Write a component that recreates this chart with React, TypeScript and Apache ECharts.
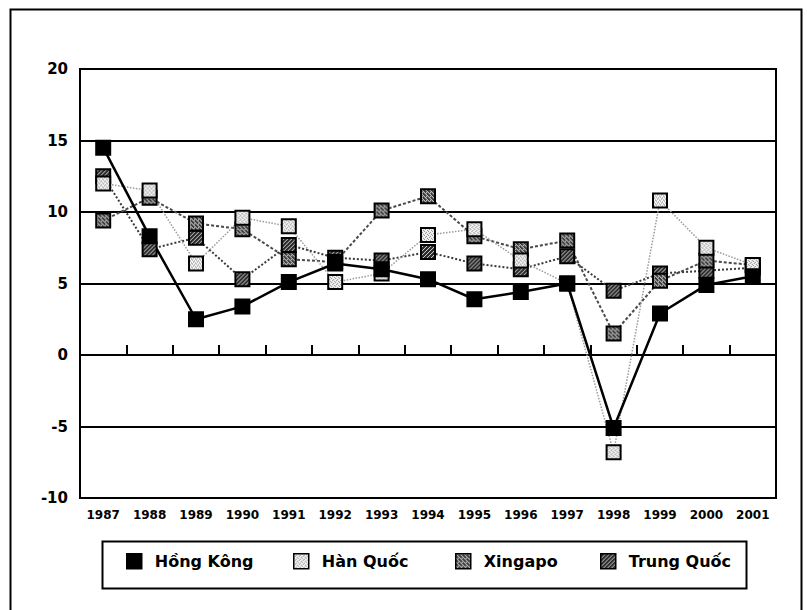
import React, { useEffect, useRef } from "react";
import * as echarts from "echarts";

// Annual growth (%) by economy, 1987–2001
const years = [
  "1987", "1988", "1989", "1990", "1991", "1992", "1993", "1994",
  "1995", "1996", "1997", "1998", "1999", "2000", "2001",
];
const hongKong = [14.5, 8.3, 2.5, 3.4, 5.1, 6.4, 6.0, 5.3, 3.9, 4.4, 5.0, -5.1, 2.9, 4.9, 5.5];
const hanQuoc = [12.0, 11.5, 6.4, 9.6, 9.0, 5.1, 5.7, 8.4, 8.8, 6.6, 5.0, -6.8, 10.8, 7.5, 6.3];
const xingapo = [9.4, 11.0, 9.2, 8.8, 6.7, 6.5, 10.1, 11.1, 8.3, 7.4, 8.0, 1.5, 5.2, 6.6, 6.3];
const trungQuoc = [12.5, 7.4, 8.2, 5.3, 7.7, 6.8, 6.6, 7.2, 6.4, 6.0, 6.9, 4.5, 5.7, 5.9, 6.1];

const yTicks = { min: -10, max: 20, interval: 5 };

const FONT = "'DejaVu Sans', 'Liberation Sans', sans-serif";
const SYMBOL = 14;

// Small repeating fill tiles for the square markers
function tile(bg: string, dot: string, cells: number[][], scale: number) {
  const c = document.createElement("canvas");
  c.width = 4;
  c.height = 4;
  const ctx = c.getContext("2d")!;
  ctx.fillStyle = bg;
  ctx.fillRect(0, 0, 4, 4);
  ctx.fillStyle = dot;
  cells.forEach(([x, y]) => ctx.fillRect(x, y, 1, 1));
  return { image: c, repeat: "repeat", scaleX: scale, scaleY: scale };
}

const lightCells = [[0, 0], [2, 1], [1, 2], [3, 3]];
const hatchCellsA = [[0, 0], [1, 1], [2, 2], [3, 3], [2, 0]];
const hatchCellsB = [[0, 0], [2, 2], [3, 1], [1, 3]];

function lineSeries(name: string, data: number[], fill: any, lineStyle: any) {
  return {
    type: "line",
    name,
    data,
    xAxisIndex: 0,
    yAxisIndex: 0,
    symbol: "rect",
    symbolSize: SYMBOL,
    showAllSymbol: true,
    itemStyle: { color: fill, borderColor: "#000", borderWidth: 2 },
    lineStyle,
    emphasis: { disabled: true },
  };
}

export default function App() {
  const ref = useRef<HTMLDivElement>(null);

  useEffect(() => {
    const chart = echarts.init(ref.current!, null, { renderer: "svg" });

    // marker paths are drawn in unit space and scaled up by half the symbol size
    const s = 2 / SYMBOL;
    const fills = {
      light: tile("#f4f4f4", "#8a8a8a", lightCells, s),
      hatchA: tile("#3c3c3c", "#e8e8e8", hatchCellsA, s),
      hatchB: tile("#2a2a2a", "#d0d0d0", hatchCellsB, s),
    };
    const legendFills = {
      light: tile("#f4f4f4", "#8a8a8a", lightCells, 1),
      hatchA: tile("#3c3c3c", "#e8e8e8", hatchCellsA, 1),
      hatchB: tile("#2a2a2a", "#d0d0d0", hatchCellsB, 1),
    };

    const legendCommon = {
      top: 553,
      padding: 0,
      icon: "rect",
      itemWidth: 15,
      itemHeight: 15,
      selectedMode: false,
      textStyle: {
        fontFamily: FONT,
        fontWeight: "bold",
        fontSize: 16,
        color: "#000",
        padding: [0, 0, 0, 8],
      },
    };
    const legendItem = (name: string, color: any) => ({
      name,
      itemStyle: { color, borderColor: "#000", borderWidth: 1.5 },
    });

    chart.setOption({
      animation: false,
      backgroundColor: "#fff",
      grid: {
        left: 80,
        right: 31,
        top: 69,
        bottom: 112,
        show: true,
        borderColor: "#000",
        borderWidth: 2,
        backgroundColor: "transparent",
      },
      xAxis: [
        {
          type: "category",
          data: years,
          boundaryGap: true,
          position: "bottom",
          axisLine: { show: true, onZero: true, lineStyle: { color: "#000", width: 2 } },
          axisTick: { show: true, inside: true, length: 10, lineStyle: { color: "#000", width: 2 } },
          axisLabel: { show: false },
          splitLine: { show: false },
        },
        {
          type: "category",
          data: years,
          boundaryGap: true,
          position: "bottom",
          axisLine: { show: false, onZero: false },
          axisTick: { show: false },
          axisLabel: {
            show: true,
            interval: 0,
            margin: 11,
            fontFamily: FONT,
            fontWeight: "bold",
            fontSize: 12,
            color: "#000",
          },
          splitLine: { show: false },
        },
      ],
      yAxis: {
        type: "value",
        ...yTicks,
        axisLine: { show: true, lineStyle: { color: "#000", width: 2 } },
        axisTick: { show: false },
        splitLine: { show: true, lineStyle: { color: "#000", width: 2 } },
        axisLabel: {
          margin: 12,
          fontFamily: FONT,
          fontWeight: "bold",
          fontSize: 15,
          color: "#000",
        },
      },
      legend: [
        { ...legendCommon, data: [legendItem("Hồng Kông", "#000")], left: 126 },
        { ...legendCommon, data: [legendItem("Hàn Quốc", legendFills.light)], left: 293 },
        { ...legendCommon, data: [legendItem("Xingapo", legendFills.hatchA)], left: 455 },
        { ...legendCommon, data: [legendItem("Trung Quốc", legendFills.hatchB)], left: 600 },
      ],
      graphic: [
        {
          type: "rect",
          left: 8,
          top: 7,
          shape: { x: 0, y: 0, width: 791, height: 640 },
          style: { fill: "none", stroke: "#000", lineWidth: 2 },
          silent: true,
          z: -1,
        },
        {
          type: "rect",
          left: 100,
          top: 539,
          shape: { x: 0, y: 0, width: 644, height: 47 },
          style: { fill: "none", stroke: "#000", lineWidth: 2 },
          silent: true,
        },
      ],
      series: [
        lineSeries("Trung Quốc", trungQuoc, fills.hatchB, { color: "#3a3a3a", width: 2, type: "dotted" }),
        lineSeries("Xingapo", xingapo, fills.hatchA, { color: "#4a4a4a", width: 2, type: [3, 2] }),
        lineSeries("Hàn Quốc", hanQuoc, fills.light, { color: "#9a9a9a", width: 1.5, type: "dotted" }),
        lineSeries("Hồng Kông", hongKong, "#000", { color: "#000", width: 2.5, type: "solid" }),
      ],
    });

    return () => chart.dispose();
  }, []);

  return (
    <div
      ref={ref}
      style={{ position: "fixed", left: 0, top: 0, width: 807, height: 610, background: "#fff" }}
    />
  );
}
